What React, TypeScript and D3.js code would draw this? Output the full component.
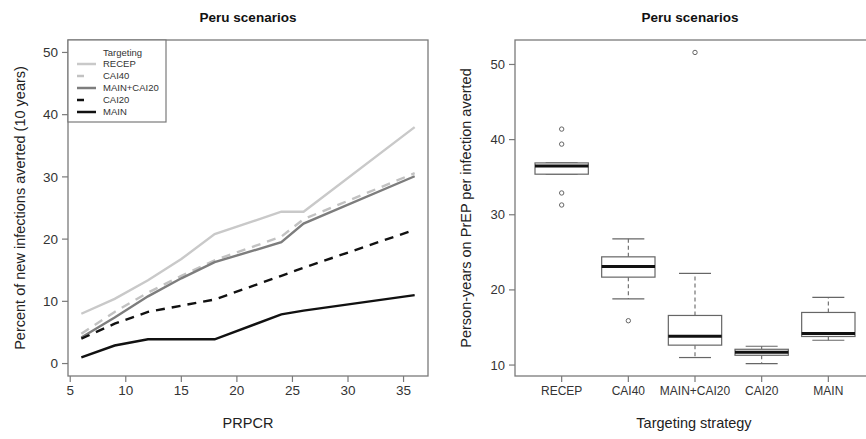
import React from "react";
import * as d3 from "d3";

const W = 866;
const H = 439;

// ---- Left panel data ----
const prpcr = [6, 9, 12, 15, 18, 24, 26, 36];
const seriesNames = ["RECEP", "CAI40", "MAIN+CAI20", "CAI20", "MAIN"];
const recep = [8.0, 10.4, 13.4, 16.8, 20.8, 24.4, 24.4, 38.0];
const cai40 = [4.8, 8.3, 11.4, 14.1, 16.6, 20.4, 23.2, 30.6];
const mainCai20 = [4.2, 7.4, 10.8, 13.7, 16.3, 19.5, 22.5, 30.1];
const cai20 = [4.0, 6.4, 8.3, 9.3, 10.3, 14.1, 15.4, 21.5];
const main = [1.0, 2.9, 3.9, 3.9, 3.9, 7.9, 8.5, 11.0];
const leftXTicks = [5, 10, 15, 20, 25, 30, 35];
const leftYTicks = [0, 10, 20, 30, 40, 50];

// ---- Right panel data (boxplot summaries) ----
const strategies = ["RECEP", "CAI40", "MAIN+CAI20", "CAI20", "MAIN"];
const whiskerLow = [35.4, 18.8, 11.0, 10.2, 13.3];
const q1 = [35.4, 21.7, 12.65, 11.3, 13.8];
const median = [36.5, 23.1, 13.85, 11.7, 14.2];
const q3 = [36.9, 24.4, 16.6, 12.1, 17.0];
const whiskerHigh = [36.9, 26.8, 22.2, 12.5, 19.0];
const outliers = [[41.4, 39.4, 32.9, 31.3], [15.9], [51.6], [], []];
const rightYTicks = [10, 20, 30, 40, 50];

const FONT = "'Liberation Sans', Arial, Helvetica, sans-serif";

const styles: Record<string, { color: string; dash?: string }> = {
  RECEP: { color: "#c9c9c9" },
  CAI40: { color: "#c2c2c2", dash: "9,7" },
  "MAIN+CAI20": { color: "#7d7d7d" },
  CAI20: { color: "#111111", dash: "9,7" },
  MAIN: { color: "#111111" },
};

export default function App() {
  // Left panel scales
  const lx = d3.scaleLinear().domain([4.8, 37.2]).range([68, 428]);
  const ly = d3.scaleLinear().domain([-2, 52]).range([376, 40]);
  const seriesVals = [recep, cai40, mainCai20, cai20, main];
  const line = d3
    .line<[number, number]>()
    .x((d) => lx(d[0]))
    .y((d) => ly(d[1]));

  // Right panel scales
  const allVals = [...whiskerLow, ...whiskerHigh, ...outliers.flat()];
  const mn = d3.min(allVals)!;
  const mx = d3.max(allVals)!;
  const pad = (mx - mn) * 0.04;
  const ry = d3.scaleLinear().domain([mn - pad, mx + pad]).range([376, 40]);
  const rx = d3.scaleLinear().domain([0.3, strategies.length + 0.7]).range([515, 875]);
  const boxHalf = rx(1.4) - rx(1);
  const capHalf = boxHalf * 0.6;

  const axisColor = "#7a7a7a";
  const textColor = "#333";

  return (
    <svg
      width={W}
      height={H}
      style={{ position: "absolute", left: 0, top: 0, background: "#fff" }}
      fontFamily={FONT}
    >
      {/* Titles */}
      <text x={248} y={22} textAnchor="middle" fontSize={13.5} fontWeight="bold" fill="#111">
        Peru scenarios
      </text>
      <text x={690} y={22} textAnchor="middle" fontSize={13.5} fontWeight="bold" fill="#111">
        Peru scenarios
      </text>

      {/* ---------- Left panel ---------- */}
      <rect x={68} y={40} width={360} height={336} fill="none" stroke={axisColor} strokeWidth={1.3} />
      {leftYTicks.map((t) => (
        <g key={"ly" + t}>
          <line x1={62} x2={68} y1={ly(t)} y2={ly(t)} stroke={axisColor} strokeWidth={1.2} />
          <text x={58} y={ly(t)} dy="0.35em" textAnchor="end" fontSize={13.5} fill={textColor}>
            {t}
          </text>
        </g>
      ))}
      {leftXTicks.map((t) => (
        <g key={"lx" + t}>
          <line x1={lx(t)} x2={lx(t)} y1={376} y2={382} stroke={axisColor} strokeWidth={1.2} />
          <text x={lx(t)} y={395} textAnchor="middle" fontSize={13.5} fill={textColor}>
            {t}
          </text>
        </g>
      ))}
      <text x={248} y={428} textAnchor="middle" fontSize={14.5} fill="#222">
        PRPCR
      </text>
      <text
        transform={`translate(25,208) rotate(-90)`}
        textAnchor="middle"
        fontSize={14.5}
        fill="#222"
      >
        Percent of new infections averted (10 years)
      </text>

      {seriesNames.map((name, i) => {
        const pts: [number, number][] = prpcr.map((x, j) => [x, seriesVals[i][j]]);
        const st = styles[name];
        return (
          <path
            key={name}
            d={line(pts) || ""}
            fill="none"
            stroke={st.color}
            strokeWidth={2.4}
            strokeDasharray={st.dash}
          />
        );
      })}

      {/* Legend */}
      <rect x={68} y={40} width={98} height={82} fill="#fff" stroke={axisColor} strokeWidth={1.2} />
      <text x={103} y={52.5} dy="0.35em" fontSize={9.5} fill={textColor}>
        Targeting
      </text>
      {seriesNames.map((name, i) => {
        const y = 64 + i * 12;
        const st = styles[name];
        return (
          <g key={"lg" + name}>
            <line
              x1={77}
              x2={name === "CAI40" || name === "CAI20" ? 84 : 96}
              y1={y}
              y2={y}
              stroke={st.color}
              strokeWidth={2.5}
            />
            <text x={103} y={y} dy="0.35em" fontSize={9.5} fill={textColor}>
              {name}
            </text>
          </g>
        );
      })}

      {/* ---------- Right panel ---------- */}
      <rect x={515} y={40} width={360} height={336} fill="none" stroke={axisColor} strokeWidth={1.3} />
      {rightYTicks.map((t) => (
        <g key={"ry" + t}>
          <line x1={509} x2={515} y1={ry(t)} y2={ry(t)} stroke={axisColor} strokeWidth={1.2} />
          <text x={505} y={ry(t)} dy="0.35em" textAnchor="end" fontSize={13} fill={textColor}>
            {t}
          </text>
        </g>
      ))}
      {strategies.map((s, i) => (
        <g key={"rx" + s}>
          <line x1={rx(i + 1)} x2={rx(i + 1)} y1={376} y2={382} stroke={axisColor} strokeWidth={1.2} />
          <text x={rx(i + 1)} y={395} textAnchor="middle" fontSize={12} fill={textColor}>
            {s}
          </text>
        </g>
      ))}
      <text x={694} y={428} textAnchor="middle" fontSize={14.5} fill="#222">
        Targeting strategy
      </text>
      <text
        transform={`translate(471,208) rotate(-90)`}
        textAnchor="middle"
        fontSize={14.5}
        fill="#222"
      >
        Person-years on PrEP per infection averted
      </text>

      {strategies.map((s, i) => {
        const cx = rx(i + 1);
        const boxStroke = "#666";
        return (
          <g key={"box" + s}>
            <line x1={cx} x2={cx} y1={ry(q3[i])} y2={ry(whiskerHigh[i])} stroke={boxStroke} strokeWidth={1.1} strokeDasharray="4,3" />
            <line x1={cx} x2={cx} y1={ry(q1[i])} y2={ry(whiskerLow[i])} stroke={boxStroke} strokeWidth={1.1} strokeDasharray="4,3" />
            <line x1={cx - capHalf} x2={cx + capHalf} y1={ry(whiskerHigh[i])} y2={ry(whiskerHigh[i])} stroke={boxStroke} strokeWidth={1.2} />
            <line x1={cx - capHalf} x2={cx + capHalf} y1={ry(whiskerLow[i])} y2={ry(whiskerLow[i])} stroke={boxStroke} strokeWidth={1.2} />
            <rect
              x={cx - boxHalf}
              y={ry(q3[i])}
              width={boxHalf * 2}
              height={ry(q1[i]) - ry(q3[i])}
              fill="#fff"
              stroke={boxStroke}
              strokeWidth={1.2}
            />
            <line x1={cx - boxHalf} x2={cx + boxHalf} y1={ry(median[i])} y2={ry(median[i])} stroke="#111" strokeWidth={3} />
            {outliers[i].map((o, k) => (
              <circle key={k} cx={cx} cy={ry(o)} r={2.2} fill="none" stroke="#666" strokeWidth={1} />
            ))}
          </g>
        );
      })}
    </svg>
  );
}
